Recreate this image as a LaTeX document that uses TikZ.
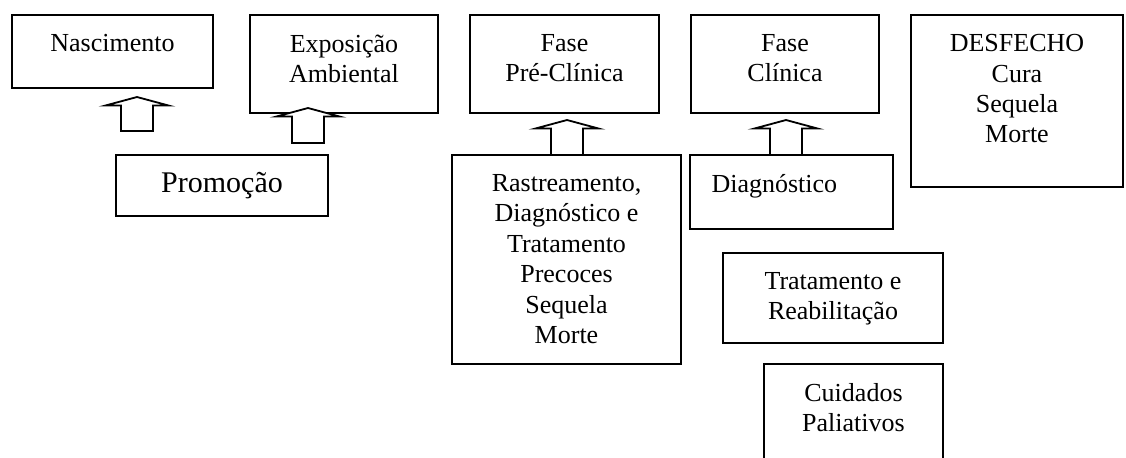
\documentclass[tikz,border=0pt]{standalone}
\usepackage{fontspec}
\setmainfont{Liberation Serif}
\usetikzlibrary{positioning}
\usetikzlibrary{fit}

\tikzset{
  box/.style={draw, line width=0.9pt, inner sep=0pt},
  txt/.style={inner sep=0pt, align=center, font=\fontsize{13}{15.2}\selectfont},
  bigtxt/.style={inner sep=0pt, font=\fontsize{15}{18}\selectfont},
  blockarrow/.style={draw, fill=white, line width=0.9pt, line join=miter}
}
% hollow up arrow: centre x, tip y, bottom y
\newcommand{\uparr}[3]{%
  \draw[blockarrow] ({#1-16},#3) -- ({#1-16},{#2+8.5}) -- ({#1-31.5},{#2+8.5})
    -- (#1,#2) -- ({#1+31.5},{#2+8.5}) -- ({#1+16},{#2+8.5}) -- ({#1+16},#3) -- cycle;}

\begin{document}
\begin{tikzpicture}[x=0.5pt, y=-0.5pt]
\useasboundingbox (0,0) rectangle (1126,457);

\node[box, fit={(12,15) (213,88)}] (nasc) {};
\node[box, fit={(250,15) (438,113)}] (expo) {};
\node[box, fit={(470,15) (659,113)}] (prec) {};
\node[box, fit={(691,15) (879,113)}] (clin) {};
\node[box, fit={(911,15) (1123,187)}] (desf) {};
\node[box, fit={(116,155) (328,216)}] (prom) {};
\node[box, fit={(452,155) (681,364)}] (rast) {};
\node[box, fit={(690,155) (893,229)}] (diag) {};
\node[box, fit={(723,253) (943,343)}] (trat) {};
\node[box, fit={(764,364) (943,480)}] (cuid) {};

\node[txt, below=10pt of nasc.north] (nasc-t) {Nascimento};
\node[txt, below=10pt of expo.north] (expo-t) {Exposição\\Ambiental};
\node[txt, below=10pt of prec.north] (prec-t) {Fase\\Pré-Clínica};
\node[txt, below=10pt of clin.north] (clin-t) {Fase\\Clínica};
\node[txt, below=10pt of desf.north] (desf-t) {DESFECHO\\Cura\\Sequela\\Morte};
\node[bigtxt] (prom-t) at (prom) {Promoção};
\node[txt, below=10pt of rast.north] (rast-t) {Rastreamento,\\Diagnóstico e\\Tratamento\\Precoces\\Sequela\\Morte};
\node[txt, anchor=north west, below right=10pt and 11pt of diag.north west] (diag-t) {Diagnóstico};
\node[txt, below=10pt of trat.north] (trat-t) {Tratamento e\\Reabilitação};
\node[txt, below=10pt of cuid.north] (cuid-t) {Cuidados\\Paliativos};

\uparr{137}{97}{131}
\uparr{308}{108}{143}
\uparr{567}{120}{155}
\uparr{786}{120}{155}
\end{tikzpicture}
\end{document}
